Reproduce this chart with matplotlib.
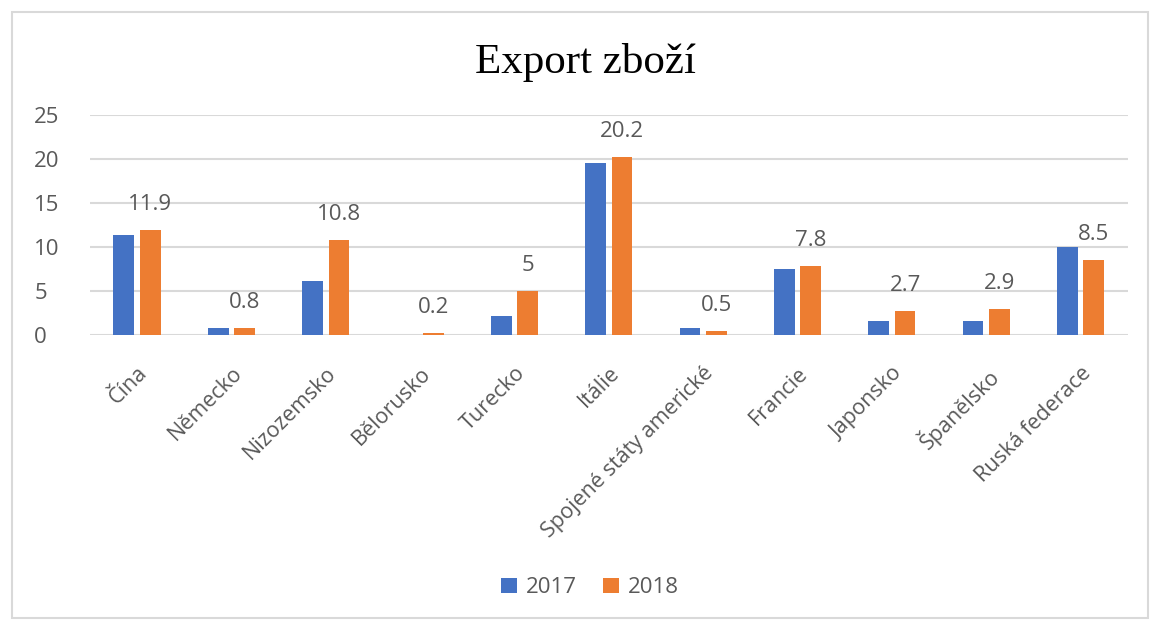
import matplotlib.pyplot as plt
import numpy as np
from matplotlib.patches import Rectangle

countries = ["Čína", "Německo", "Nizozemsko", "Bělorusko", "Turecko", "Itálie",
             "Spojené státy americké", "Francie", "Japonsko", "Španělsko",
             "Ruská federace"]
export_2017 = [11.4, 0.8, 6.1, 0.0, 2.2, 19.6, 0.8, 7.5, 1.6, 1.6, 10.0]
export_2018 = [11.9, 0.8, 10.8, 0.2, 5.0, 20.2, 0.5, 7.8, 2.7, 2.9, 8.5]
label_2018 = ["11.9", "0.8", "10.8", "0.2", "5", "20.2", "0.5", "7.8", "2.7", "2.9", "8.5"]

BLUE = "#4472C4"
ORANGE = "#ED7D31"
GREY_TXT = "#595959"
GRID = "#D9D9D9"

plt.rcParams["font.family"] = ["Open Sans", "DejaVu Sans"]

fig = plt.figure(figsize=(11.52, 6.22), dpi=100)
ax = fig.add_axes([0.078, 0.4614, 0.901, 0.3537])

x = np.arange(len(countries))
w = 0.22
gap = 0.06
off = (w + gap) / 2
ax.bar(x - off, export_2017, width=w, color=BLUE, label="2017", zorder=3)
ax.bar(x + off, export_2018, width=w, color=ORANGE, label="2018", zorder=3)

for xi, v, s in zip(x, export_2018, label_2018):
    ax.annotate(s, xy=(xi + off, v), xytext=(0, 15), textcoords="offset pixels",
                ha="center", va="bottom", fontsize=16, color=GREY_TXT)

ax.set_ylim(0, 25)
ax.set_yticks(range(0, 26, 5))
ax.set_xlim(-0.5, len(countries) - 0.5)
ax.grid(axis="y", color=GRID, linewidth=1.5, zorder=0)
for sp in ax.spines.values():
    sp.set_visible(False)
ax.tick_params(axis="both", length=0, colors=GREY_TXT, labelsize=16)
ax.tick_params(axis="y", pad=40)
ax.set_xticks(x)
ax.set_xticklabels(countries, rotation=45, ha="right", va="top",
                   rotation_mode="anchor")
ax.tick_params(axis="x", pad=20, labelsize=15.5)
for lbl in ax.get_yticklabels():
    lbl.set_horizontalalignment("left")

fig.text(0.508, 0.9, "Export zboží", ha="center", va="center",
         fontsize=31, family="Liberation Serif", color="black")

fig.legend(loc="center", bbox_to_anchor=(0.512, 0.055), ncol=2, frameon=False,
           handlelength=0.7, handleheight=0.7, handletextpad=0.4,
           columnspacing=1.2, fontsize=16, labelcolor=GREY_TXT)

fig.patches.append(Rectangle((12 / 1152, 4 / 622), 1136 / 1152, 606 / 622,
                             transform=fig.transFigure, fill=False,
                             edgecolor="#D9D9D9", linewidth=1.5))

fig.savefig("out.png", dpi=100)
